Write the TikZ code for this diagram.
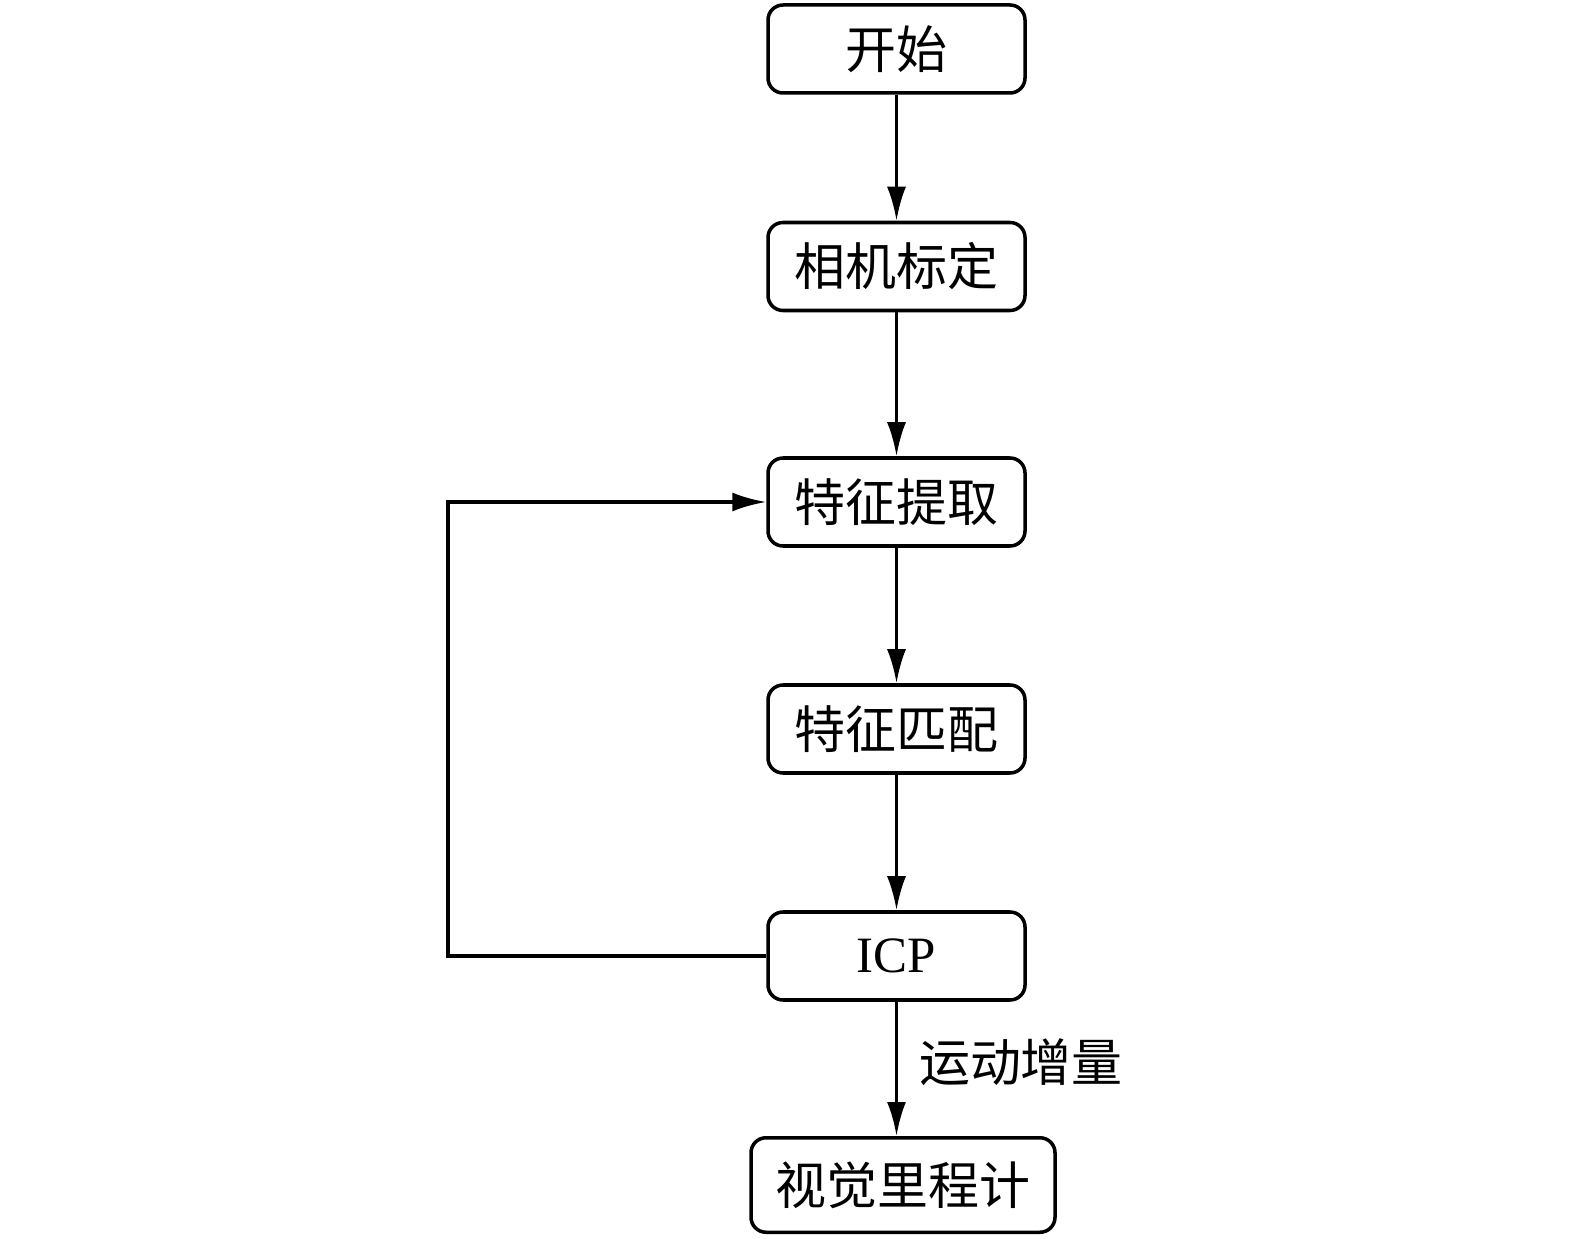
\documentclass[tikz,border=0pt]{standalone}
\usepackage{fontspec}
\setmainfont{Liberation Serif}
\newfontfamily\cjk{Noto Sans CJK SC}
\usetikzlibrary{arrows.meta}

\begin{document}
\begin{tikzpicture}[
  block/.style={shape=rectangle,rounded corners=0.3cm,draw=black,line width=2pt,
    minimum width=5.14cm,minimum height=1.76cm,font=\fontsize{29}{35}\selectfont\cjk},
  flow/.style={-{Latex[length=0.68cm,width=0.38cm]},line width=1.9pt}]
  \useasboundingbox (0,0) rectangle (31.5,-24.78);
  \node[block] (start) at (17.93,-0.98) {开始};
  \node[block] (calib) at (17.93,-5.33) {相机标定};
  \node[block] (feat) at (17.93,-10.04) {特征提取};
  \node[block] (match) at (17.93,-14.58) {特征匹配};
  \node[block,font=\fontsize{29}{35}\selectfont\rmfamily] (icp) at (17.93,-19.12) {ICP};
  \node[block,minimum width=6.08cm,minimum height=1.89cm] (vo) at (18.06,-23.70) {视觉里程计};
  \coordinate (back) at (8.96,-19.12);
  \path [flow](start) edge (calib);
  \path [flow](calib) edge (feat);
  \path [flow](feat) edge (match);
  \path [flow](match) edge (icp);
  \path [flow](icp) edge node[right,xshift=0.3cm,yshift=0.14cm,font=\fontsize{29}{35}\selectfont\cjk] {运动增量} (icp |- vo.north);
  \draw [flow](icp.west) -- (back) |- (feat.west);
\end{tikzpicture}
\end{document}
